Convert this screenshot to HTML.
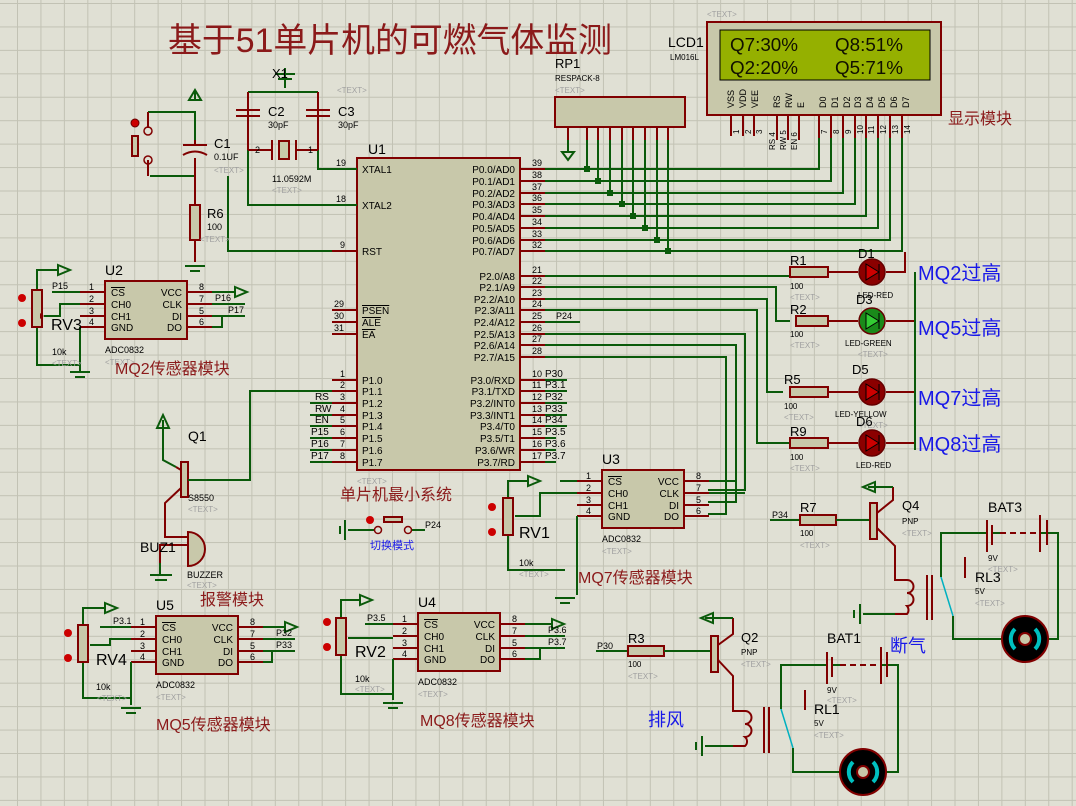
<!DOCTYPE html>
<html><head><meta charset="utf-8"><style>
html,body{margin:0;padding:0}
body{width:1076px;height:806px;overflow:hidden;background-color:#e0e0d4;
background-image:linear-gradient(to right,#c2c2b4 1px,transparent 1px),linear-gradient(to bottom,#c2c2b4 1px,transparent 1px);
background-size:23.45px 23.45px;background-position:17px 3px;}
svg{position:absolute;left:0;top:0}
text{font-family:"Liberation Sans","Noto Sans CJK SC",sans-serif}
.w{stroke:#0a5a0a;stroke-width:2;fill:none}
.r{stroke:#800000;stroke-width:2;fill:none}
.rf{stroke:#800000;stroke-width:2;fill:#c8c8aa}
.t{font-size:10px;fill:#000}
.g{font-size:8px;fill:#a0a0a0}
.cn{fill:#8b1a1a}
.bl{fill:#1818e8}
</style></head><body>
<svg width="1076" height="806" viewBox="0 0 1076 806">
<!-- title -->
<text x="168" y="52" class="cn" font-size="34" textLength="444" lengthAdjust="spacingAndGlyphs">基于51单片机的可燃气体监测</text>

<!-- LCD -->
<text x="707" y="17" class="g">&lt;TEXT&gt;</text>
<text x="668" y="47" font-size="14">LCD1</text>
<text x="670" y="60" font-size="8">LM016L</text>
<rect x="707" y="22" width="234" height="93" class="rf" fill="#d0d0bc"/>
<rect x="720" y="30" width="210" height="50" fill="#95b000" stroke="#000" stroke-width="1"/>
<g font-size="18" fill="#101000">
<text x="730" y="51" font-family="Liberation Mono,monospace" textLength="68" lengthAdjust="spacingAndGlyphs">Q7:30%</text><text x="835" y="51" font-family="Liberation Mono,monospace" textLength="68" lengthAdjust="spacingAndGlyphs">Q8:51%</text>
<text x="730" y="74" font-family="Liberation Mono,monospace" textLength="68" lengthAdjust="spacingAndGlyphs">Q2:20%</text><text x="835" y="74" font-family="Liberation Mono,monospace" textLength="68" lengthAdjust="spacingAndGlyphs">Q5:71%</text></g>
<g font-size="9">
<text transform="translate(734,108) rotate(-90)">VSS</text><text transform="translate(746,108) rotate(-90)">VDD</text><text transform="translate(758,108) rotate(-90)">VEE</text>
<text transform="translate(780,108) rotate(-90)">RS</text><text transform="translate(792,108) rotate(-90)">RW</text><text transform="translate(804,108) rotate(-90)">E</text>
<text transform="translate(826,108) rotate(-90)">D0</text><text transform="translate(838,108) rotate(-90)">D1</text><text transform="translate(850,108) rotate(-90)">D2</text><text transform="translate(861,108) rotate(-90)">D3</text><text transform="translate(873,108) rotate(-90)">D4</text><text transform="translate(885,108) rotate(-90)">D5</text><text transform="translate(897,108) rotate(-90)">D6</text><text transform="translate(909,108) rotate(-90)">D7</text>
</g>
<g class="r"><path d="M731 115V136M743 115V136M754 115V136M777 115V140M788 115V140M799 115V140M819 115V138M831 115V138M843 115V138M855 115V138M866 115V138M878 115V138M890 115V138M902 115V138"/></g>
<g font-size="8"><text transform="translate(739,134) rotate(-90)">1</text><text transform="translate(751,134) rotate(-90)">2</text><text transform="translate(762,134) rotate(-90)">3</text>
<text transform="translate(775,150) rotate(-90)">RS 4</text><text transform="translate(786,150) rotate(-90)">RW 5</text><text transform="translate(797,150) rotate(-90)">EN 6</text>
<text transform="translate(827,134) rotate(-90)">7</text><text transform="translate(839,134) rotate(-90)">8</text><text transform="translate(851,134) rotate(-90)">9</text><text transform="translate(863,134) rotate(-90)">10</text><text transform="translate(874,134) rotate(-90)">11</text><text transform="translate(886,134) rotate(-90)">12</text><text transform="translate(898,134) rotate(-90)">13</text><text transform="translate(910,134) rotate(-90)">14</text></g>
<text x="948" y="124" class="cn" font-size="16">显示模块</text>

<!-- RP1 -->
<text x="555" y="68" font-size="13">RP1</text>
<text x="555" y="81" font-size="8">RESPACK-8</text>
<text x="555" y="93" class="g">&lt;TEXT&gt;</text>
<rect x="555" y="97" width="130" height="30" class="rf"/>
<g class="r"><path d="M568 127V140M587 127V140M598 127V140M610 127V140M622 127V140M633 127V140M645 127V140M657 127V140M668 127V140"/></g>
<path d="M568 140V152M562 152H574L568 160Z" class="w"/>
<g class="w">
<path d="M545 169H819V138M587 140V169"/>
<path d="M545 181H831V138M598 140V181"/>
<path d="M545 193H843V138M610 140V193"/>
<path d="M545 204H855V138M622 140V204"/>
<path d="M545 216H866V138M633 140V216"/>
<path d="M545 228H878V138M645 140V228"/>
<path d="M545 240H890V138M657 140V240"/>
<path d="M545 251H902V138M668 140V251"/>
</g>
<g fill="#0a5a0a"><rect x="584" y="166" width="6" height="6"/><rect x="595" y="178" width="6" height="6"/><rect x="607" y="190" width="6" height="6"/><rect x="619" y="201" width="6" height="6"/><rect x="630" y="213" width="6" height="6"/><rect x="642" y="225" width="6" height="6"/><rect x="654" y="237" width="6" height="6"/><rect x="665" y="248" width="6" height="6"/></g>

<!-- U1 -->
<text x="368" y="154" font-size="14">U1</text>
<rect x="357" y="158" width="163" height="312" class="rf"/>
<g class="r">
<path d="M332 169H357M332 205H357M332 251H357M332 310H357M332 322H357M332 334H357"/>
<path d="M332 380H357M332 391H357M332 403H357M332 415H357M332 426H357M332 438H357M332 450H357M332 462H357"/>
<path d="M520 169H545M520 181H545M520 193H545M520 204H545M520 216H545M520 228H545M520 240H545M520 251H545"/>
<path d="M520 276H545M520 287H545M520 299H545M520 310H545M520 322H545M520 334H545M520 345H545M520 357H545"/>
<path d="M520 380H545M520 391H545M520 403H545M520 415H545M520 426H545M520 438H545M520 450H545M520 462H545"/>
</g>
<g class="t">
<text x="362" y="173">XTAL1</text><text x="362" y="209">XTAL2</text><text x="362" y="255">RST</text>
<text x="362" y="314" text-decoration="overline">PSEN</text><text x="362" y="326" text-decoration="overline">ALE</text><text x="362" y="338" text-decoration="overline">EA</text>
<text x="362" y="384">P1.0</text><text x="362" y="395">P1.1</text><text x="362" y="407">P1.2</text><text x="362" y="419">P1.3</text><text x="362" y="430">P1.4</text><text x="362" y="442">P1.5</text><text x="362" y="454">P1.6</text><text x="362" y="466">P1.7</text>
<g text-anchor="end">
<text x="515" y="173">P0.0/AD0</text><text x="515" y="185">P0.1/AD1</text><text x="515" y="197">P0.2/AD2</text><text x="515" y="208">P0.3/AD3</text><text x="515" y="220">P0.4/AD4</text><text x="515" y="232">P0.5/AD5</text><text x="515" y="244">P0.6/AD6</text><text x="515" y="255">P0.7/AD7</text>
<text x="515" y="280">P2.0/A8</text><text x="515" y="291">P2.1/A9</text><text x="515" y="303">P2.2/A10</text><text x="515" y="314">P2.3/A11</text><text x="515" y="326">P2.4/A12</text><text x="515" y="338">P2.5/A13</text><text x="515" y="349">P2.6/A14</text><text x="515" y="361">P2.7/A15</text>
<text x="515" y="384">P3.0/RXD</text><text x="515" y="395">P3.1/TXD</text><text x="515" y="407">P3.2/INT0</text><text x="515" y="419">P3.3/INT1</text><text x="515" y="430">P3.4/T0</text><text x="515" y="442">P3.5/T1</text><text x="515" y="454">P3.6/WR</text><text x="515" y="466">P3.7/RD</text>
</g>
<g font-size="9">
<text x="336" y="166">19</text><text x="336" y="202">18</text><text x="340" y="248">9</text><text x="334" y="307">29</text><text x="334" y="319">30</text><text x="334" y="331">31</text>
<text x="340" y="377">1</text><text x="340" y="388">2</text><text x="340" y="400">3</text><text x="340" y="412">4</text><text x="340" y="423">5</text><text x="340" y="435">6</text><text x="340" y="447">7</text><text x="340" y="459">8</text>
<text x="532" y="166">39</text><text x="532" y="178">38</text><text x="532" y="190">37</text><text x="532" y="201">36</text><text x="532" y="213">35</text><text x="532" y="225">34</text><text x="532" y="237">33</text><text x="532" y="248">32</text>
<text x="532" y="273">21</text><text x="532" y="284">22</text><text x="532" y="296">23</text><text x="532" y="307">24</text><text x="532" y="319">25</text><text x="532" y="331">26</text><text x="532" y="342">27</text><text x="532" y="354">28</text>
<text x="532" y="377">10</text><text x="532" y="388">11</text><text x="532" y="400">12</text><text x="532" y="412">13</text><text x="532" y="423">14</text><text x="532" y="435">15</text><text x="532" y="447">16</text><text x="532" y="459">17</text>
</g></g>
<text x="340" y="500" class="cn" font-size="16">单片机最小系统</text>
<text x="357" y="484" class="g">&lt;TEXT&gt;</text>
<g class="w"><path d="M545 380H567M545 391H567M545 403H567M545 415H567M545 426H567M545 438H556M545 450H556M545 462H556"/></g>
<g class="t" font-size="9"><text x="545" y="377">P30</text><text x="545" y="388">P3.1</text><text x="545" y="400">P32</text><text x="545" y="412">P33</text><text x="545" y="423">P34</text><text x="545" y="435">P3.5</text><text x="545" y="447">P3.6</text><text x="545" y="459">P3.7</text></g>
<g class="w"><path d="M310 403H332M310 415H332M310 426H332M310 438H332M310 450H332M310 462H332"/></g>
<g class="t" font-size="9"><text x="315" y="400">RS</text><text x="315" y="412">RW</text><text x="315" y="423">EN</text><text x="311" y="435">P15</text><text x="311" y="447">P16</text><text x="311" y="459">P17</text></g>
<path d="M332 391H250V480H196" class="w"/>

<g class="w">
<path d="M545 276H790M545 287H776V321H790M545 299H767V392H783M545 310H757V443H790"/>
<path d="M545 322H580"/>
<path d="M545 334H745V490H708M545 345H736V502H708M545 357H726V514H708"/>
</g>
<text x="556" y="319" font-size="9">P24</text>
<g>
<rect x="790" y="267" width="38" height="10" class="rf" fill="#d8cca8"/><path d="M828 272H858M886 272H905V252" class="r"/>
<circle cx="872" cy="272" r="13" fill="#8b0000" stroke="#600" stroke-width="1.5"/><path d="M879 264V280M879 272L866 264V280Z" stroke="#000" fill="#c00"/>
<text x="790" y="265" font-size="13">R1</text><text x="790" y="289" font-size="8">100</text><text x="790" y="300" class="g">&lt;TEXT&gt;</text>
<text x="858" y="258" font-size="13">D1</text><text x="858" y="298" font-size="8">LED-RED</text>

<rect x="796" y="316" width="32" height="10" class="rf" fill="#d8cca8"/><path d="M828 321H858M886 321H915" class="r"/>
<circle cx="872" cy="321" r="13" fill="#1a8a1a" stroke="#600" stroke-width="1.5"/><path d="M879 313V329M879 321L866 313V329Z" stroke="#000" fill="#3c3"/>
<text x="790" y="314" font-size="13">R2</text><text x="790" y="337" font-size="8">100</text><text x="790" y="348" class="g">&lt;TEXT&gt;</text>
<text x="856" y="304" font-size="13">D3</text><text x="845" y="346" font-size="8">LED-GREEN</text><text x="858" y="357" class="g">&lt;TEXT&gt;</text>

<rect x="790" y="387" width="38" height="10" class="rf" fill="#d8cca8"/><path d="M828 392H858M886 392H915" class="r"/>
<circle cx="872" cy="392" r="13" fill="#8b0000" stroke="#600" stroke-width="1.5"/><path d="M879 384V400M879 392L866 384V400Z" stroke="#000" fill="#c00"/>
<text x="784" y="384" font-size="13">R5</text><text x="784" y="409" font-size="8">100</text><text x="784" y="420" class="g">&lt;TEXT&gt;</text>
<text x="852" y="374" font-size="13">D5</text><text x="835" y="417" font-size="8">LED-YELLOW</text><text x="858" y="428" class="g">&lt;TEXT&gt;</text>

<rect x="790" y="438" width="38" height="10" class="rf" fill="#d8cca8"/><path d="M828 443H858M886 443H915" class="r"/>
<circle cx="872" cy="443" r="13" fill="#8b0000" stroke="#600" stroke-width="1.5"/><path d="M879 435V451M879 443L866 435V451Z" stroke="#000" fill="#c00"/>
<text x="790" y="436" font-size="13">R9</text><text x="790" y="460" font-size="8">100</text><text x="790" y="471" class="g">&lt;TEXT&gt;</text>
<text x="856" y="426" font-size="13">D6</text><text x="856" y="468" font-size="8">LED-RED</text>
<path d="M915 272V450" class="w"/>
</g>
<g class="bl" font-size="20"><text x="918" y="280">MQ2过高</text><text x="918" y="335">MQ5过高</text><text x="918" y="405">MQ7过高</text><text x="918" y="451">MQ8过高</text></g>

<g>
<path d="M285 68V88M275 74H295M278 79H292" class="w"/>
<path d="M248 92H318" class="w"/>
<path d="M248 92V150M318 92V150" class="r"/>
<path d="M236 110H260M236 116H260M306 110H330M306 116H330" class="r"/>
<path d="M248 150V205H357M318 150V169H357" class="w"/>
<path d="M248 150H272M296 150H318" class="r"/>
<path d="M272 140V160M296 140V160" class="r"/><rect x="279" y="141" width="10" height="18" class="rf"/>
<text x="268" y="116" font-size="13">C2</text><text x="268" y="128" font-size="9">30pF</text><text x="272" y="78" font-size="13">X1</text>
<text x="338" y="116" font-size="13">C3</text><text x="338" y="128" font-size="9">30pF</text><text x="337" y="93" class="g">&lt;TEXT&gt;</text>
<text x="255" y="153" font-size="9">2</text><text x="308" y="153" font-size="9">1</text>
<text x="272" y="182" font-size="9">11.0592M</text><text x="272" y="193" class="g">&lt;TEXT&gt;</text>
<path d="M195 92V100M189 100H201L195 90Z" class="w"/>
<path d="M148 112H195V140M150 176H195M228 176V251H332" class="w"/>
<path d="M195 140V145M195 158V205M195 240V262" class="r"/>
<path d="M183 145H207M183 155Q195 148 207 155" class="r"/>
<rect x="190" y="205" width="10" height="35" class="rf" fill="#d8cca8"/>
<path d="M185 266H205M190 271H200" class="w"/>
<text x="214" y="148" font-size="13">C1</text><text x="214" y="160" font-size="9">0.1UF</text><text x="214" y="173" class="g">&lt;TEXT&gt;</text>
<text x="207" y="218" font-size="13">R6</text><text x="207" y="230" font-size="9">100</text><text x="200" y="242" class="g">&lt;TEXT&gt;</text>
<path d="M148 112V128M148 160V176" class="r"/><circle cx="148" cy="131" r="4" fill="none" stroke="#800000" stroke-width="1.5"/><circle cx="148" cy="160" r="4" fill="none" stroke="#800000" stroke-width="1.5"/>
<rect x="132" y="136" width="6" height="20" class="rf"/>
<circle cx="135" cy="123" r="4" fill="#c00" stroke="#600"/>
</g>

<g transform="translate(105,281)">
<text x="0" y="-6" font-size="14">U2</text>
<rect x="0" y="0" width="82" height="58" class="rf"/>
<path d="M-25 11H0M-25 23H0M-25 35H0M-25 46H0M82 11H107M82 23H107M82 35H107M82 46H107" class="r"/>
<g class="t"><text x="6" y="15" text-decoration="overline">CS</text><text x="6" y="27">CH0</text><text x="6" y="39">CH1</text><text x="6" y="50">GND</text>
<text x="77" y="15" text-anchor="end">VCC</text><text x="77" y="27" text-anchor="end">CLK</text><text x="77" y="39" text-anchor="end">DI</text><text x="77" y="50" text-anchor="end">DO</text>
<text x="-16" y="9" font-size="9">1</text><text x="-16" y="21" font-size="9">2</text><text x="-16" y="33" font-size="9">3</text><text x="-16" y="44" font-size="9">4</text>
<text x="94" y="9" font-size="9">8</text><text x="94" y="21" font-size="9">7</text><text x="94" y="33" font-size="9">5</text><text x="94" y="44" font-size="9">6</text></g>
<text x="0" y="72" font-size="9">ADC0832</text><text x="0" y="84" class="g">&lt;TEXT&gt;</text>
</g>
<g transform="translate(156,616)">
<text x="0" y="-6" font-size="14">U5</text>
<rect x="0" y="0" width="82" height="58" class="rf"/>
<path d="M-25 11H0M-25 23H0M-25 35H0M-25 46H0M82 11H107M82 23H107M82 35H107M82 46H107" class="r"/>
<g class="t"><text x="6" y="15" text-decoration="overline">CS</text><text x="6" y="27">CH0</text><text x="6" y="39">CH1</text><text x="6" y="50">GND</text>
<text x="77" y="15" text-anchor="end">VCC</text><text x="77" y="27" text-anchor="end">CLK</text><text x="77" y="39" text-anchor="end">DI</text><text x="77" y="50" text-anchor="end">DO</text>
<text x="-16" y="9" font-size="9">1</text><text x="-16" y="21" font-size="9">2</text><text x="-16" y="33" font-size="9">3</text><text x="-16" y="44" font-size="9">4</text>
<text x="94" y="9" font-size="9">8</text><text x="94" y="21" font-size="9">7</text><text x="94" y="33" font-size="9">5</text><text x="94" y="44" font-size="9">6</text></g>
<text x="0" y="72" font-size="9">ADC0832</text><text x="0" y="84" class="g">&lt;TEXT&gt;</text>
</g>
<g transform="translate(418,613)">
<text x="0" y="-6" font-size="14">U4</text>
<rect x="0" y="0" width="82" height="58" class="rf"/>
<path d="M-25 11H0M-25 23H0M-25 35H0M-25 46H0M82 11H107M82 23H107M82 35H107M82 46H107" class="r"/>
<g class="t"><text x="6" y="15" text-decoration="overline">CS</text><text x="6" y="27">CH0</text><text x="6" y="39">CH1</text><text x="6" y="50">GND</text>
<text x="77" y="15" text-anchor="end">VCC</text><text x="77" y="27" text-anchor="end">CLK</text><text x="77" y="39" text-anchor="end">DI</text><text x="77" y="50" text-anchor="end">DO</text>
<text x="-16" y="9" font-size="9">1</text><text x="-16" y="21" font-size="9">2</text><text x="-16" y="33" font-size="9">3</text><text x="-16" y="44" font-size="9">4</text>
<text x="94" y="9" font-size="9">8</text><text x="94" y="21" font-size="9">7</text><text x="94" y="33" font-size="9">5</text><text x="94" y="44" font-size="9">6</text></g>
<text x="0" y="72" font-size="9">ADC0832</text><text x="0" y="84" class="g">&lt;TEXT&gt;</text>
</g>
<g transform="translate(602,470)">
<text x="0" y="-6" font-size="14">U3</text>
<rect x="0" y="0" width="82" height="58" class="rf"/>
<path d="M-25 11H0M-25 23H0M-25 35H0M-25 46H0M82 11H107M82 23H107M82 35H107M82 46H107" class="r"/>
<g class="t"><text x="6" y="15" text-decoration="overline">CS</text><text x="6" y="27">CH0</text><text x="6" y="39">CH1</text><text x="6" y="50">GND</text>
<text x="77" y="15" text-anchor="end">VCC</text><text x="77" y="27" text-anchor="end">CLK</text><text x="77" y="39" text-anchor="end">DI</text><text x="77" y="50" text-anchor="end">DO</text>
<text x="-16" y="9" font-size="9">1</text><text x="-16" y="21" font-size="9">2</text><text x="-16" y="33" font-size="9">3</text><text x="-16" y="44" font-size="9">4</text>
<text x="94" y="9" font-size="9">8</text><text x="94" y="21" font-size="9">7</text><text x="94" y="33" font-size="9">5</text><text x="94" y="44" font-size="9">6</text></g>
<text x="0" y="72" font-size="9">ADC0832</text><text x="0" y="84" class="g">&lt;TEXT&gt;</text>
</g>
<g class="w">
<path d="M52 292H80M37 290V270H58M44 316H60V304H80M80 327H80M37 327V365H80M80 327V365M70 372H90M75 377H85M80 365V372"/>
<path d="M212 292H235M212 304H245M212 316H245M212 327H222V316"/>
<path d="M131 627H100M83 625V608H105M90 645H110V639H131M83 662V698H131M131 662V705M121 708H141M126 713H136"/>
<path d="M263 627H285M263 639H295M263 651H295M263 662H272V651"/>
<path d="M393 624H365M341 618V600H360M348 638H393M341 655V694H393M393 659V700M383 703H403M388 708H398"/>
<path d="M525 624H552M525 636H565M525 648H565M525 659H540V648"/>
<path d="M577 481H560M508 498V481H528M515 516H540V493H577M508 535V570H565M577 516V595M555 598H575M560 603H570"/>
<path d="M709 481H735M709 493H745"/>
</g>
<path d="M58 265L70 270L58 275Z M105 603L117 608L105 613Z M360 595L372 600L360 605Z M528 476L540 481L528 486Z M235 287L247 292L235 297Z M285 622L297 627L285 632Z M552 619L564 624L552 629Z" fill="none" stroke="#0a5a0a" stroke-width="2"/>
<g font-size="9"><text x="52" y="289">P15</text><text x="215" y="301">P16</text><text x="228" y="313">P17</text>
<text x="113" y="624">P3.1</text><text x="276" y="636">P32</text><text x="276" y="648">P33</text>
<text x="367" y="621">P3.5</text><text x="548" y="633">P3.6</text><text x="548" y="645">P3.7</text></g>
<g>
<rect x="32" y="290" width="10" height="37" class="rf"/><path d="M44 316l-4-3v6z" fill="#800000"/>
<rect x="78" y="625" width="10" height="37" class="rf"/>
<rect x="336" y="618" width="10" height="37" class="rf"/>
<rect x="503" y="498" width="10" height="37" class="rf"/>
<circle cx="22" cy="298" r="4" fill="#c00"/><circle cx="22" cy="323" r="4" fill="#c00"/>
<circle cx="68" cy="633" r="4" fill="#c00"/><circle cx="68" cy="658" r="4" fill="#c00"/>
<circle cx="327" cy="622" r="4" fill="#c00"/><circle cx="327" cy="647" r="4" fill="#c00"/>
<circle cx="492" cy="507" r="4" fill="#c00"/><circle cx="492" cy="532" r="4" fill="#c00"/>
</g>
<g font-size="16"><text x="51" y="330">RV3</text><text x="96" y="665">RV4</text><text x="355" y="657">RV2</text><text x="519" y="538">RV1</text></g>
<g font-size="9"><text x="52" y="355">10k</text><text x="96" y="690">10k</text><text x="355" y="682">10k</text><text x="519" y="566">10k</text></g>
<g class="g"><text x="52" y="366">&lt;TEXT&gt;</text><text x="97" y="701">&lt;TEXT&gt;</text><text x="355" y="692">&lt;TEXT&gt;</text><text x="519" y="577">&lt;TEXT&gt;</text></g>
<g class="cn" font-size="16"><text x="115" y="374">MQ2传感器模块</text><text x="156" y="730">MQ5传感器模块</text><text x="420" y="726">MQ8传感器模块</text><text x="578" y="583">MQ7传感器模块</text></g>

<g>
<path d="M163 420V460L176 467" class="w"/><path d="M157 428L163 415L169 428Z" fill="none" stroke="#0a5a0a" stroke-width="2"/>
<rect x="181" y="462" width="7" height="35" class="rf"/>
<path d="M176 467L181 470M181 488L165 503V537H188M160 563V545H188" class="r"/>
<path d="M188 480H250" class="w"/>
<path d="M188 532A16 16 0 0 1 188 566Z" fill="#c8c8aa" stroke="#800000" stroke-width="2"/>
<path d="M150 575H172M155 580H167" class="w"/><path d="M160 563V575" class="w"/>
<text x="188" y="441" font-size="14">Q1</text><text x="188" y="501" font-size="9">S8550</text><text x="188" y="512" class="g">&lt;TEXT&gt;</text>
<text x="140" y="552" font-size="14">BUZ1</text><text x="187" y="578" font-size="9">BUZZER</text><text x="187" y="588" class="g">&lt;TEXT&gt;</text>
<text x="200" y="605" class="cn" font-size="16">报警模块</text>
</g>
<g>
<path d="M345 520V540M340 526V534M348 530H375" class="w"/>
<circle cx="378" cy="530" r="3.5" fill="none" stroke="#800000" stroke-width="1.5"/><circle cx="408" cy="530" r="3.5" fill="none" stroke="#800000" stroke-width="1.5"/>
<rect x="384" y="517" width="18" height="5" class="rf"/>
<path d="M412 530H425" class="w"/><text x="425" y="528" font-size="9">P24</text>
<circle cx="370" cy="520" r="4" fill="#c00"/>
<text x="370" y="549" class="bl" font-size="11">切换模式</text>
</g>

<g>
<path d="M770 520H800" class="w"/><rect x="800" y="515" width="36" height="10" class="rf" fill="#d8cca8"/>
<path d="M836 520H870" class="w"/>
<rect x="870" y="503" width="7" height="36" class="rf"/>
<path d="M877 513L893 500V487M877 528L895 546V580H907" class="r"/>
<path d="M893 487H868" class="w"/><path d="M875 482L863 487L875 492Z" fill="none" stroke="#0a5a0a" stroke-width="2"/>
<path d="M907 580A6 6 0 0 1 907 593A6 6 0 0 1 907 606A6 6 0 0 1 907 614H895" fill="none" stroke="#800000" stroke-width="2"/>
<path d="M927 575V620M932 575V620" class="r"/>
<path d="M895 614H863M860 604V624M854 610V618" class="w"/>
<path d="M941 577L953 616" stroke="#00b0c0" stroke-width="1.5"/>
<path d="M941 577V533H987M993 533H1003M1040 533H1058V639H1049M953 616V639H1001" class="w"/>
<path d="M987 520V552M992 525V545M1040 515V552M1047 520V545" class="r"/>
<path d="M1000 533H1038" stroke="#800000" stroke-width="2" stroke-dasharray="6 4"/>
<path d="M965 557V578" class="r"/>
<circle cx="1025" cy="639" r="23" fill="#000" stroke="#800000" stroke-width="2"/>
<path d="M1015 629A14 14 0 0 0 1015 649M1035 629A14 14 0 0 1 1035 649" stroke="#00c0c0" stroke-width="4" fill="none"/>
<circle cx="1025" cy="639" r="6" fill="#c8c8aa" stroke="#800000" stroke-width="2"/>
<text x="772" y="518" font-size="9">P34</text>
<text x="800" y="512" font-size="13">R7</text><text x="800" y="536" font-size="8">100</text><text x="800" y="548" class="g">&lt;TEXT&gt;</text>
<text x="902" y="510" font-size="13">Q4</text><text x="902" y="524" font-size="8">PNP</text><text x="902" y="536" class="g">&lt;TEXT&gt;</text>
<text x="988" y="512" font-size="14">BAT3</text><text x="988" y="561" font-size="8">9V</text><text x="988" y="572" class="g">&lt;TEXT&gt;</text>
<text x="975" y="582" font-size="14">RL3</text><text x="975" y="594" font-size="8">5V</text><text x="975" y="606" class="g">&lt;TEXT&gt;</text>
<text x="890" y="652" class="bl" font-size="18">断气</text>
</g>
<g>
<path d="M596 651H628" class="w"/><rect x="628" y="646" width="36" height="10" class="rf" fill="#d8cca8"/>
<path d="M664 651H710" class="w"/>
<rect x="711" y="636" width="7" height="36" class="rf"/>
<path d="M718 645L733 634V618M718 660L733 676V711H745" class="r"/>
<path d="M733 618H705" class="w"/><path d="M713 613L701 618L713 623Z" fill="none" stroke="#0a5a0a" stroke-width="2"/>
<path d="M745 711A6 6 0 0 1 745 724A6 6 0 0 1 745 737A6 6 0 0 1 745 746H733" fill="none" stroke="#800000" stroke-width="2"/>
<path d="M764 707V753M769 707V753" class="r"/>
<path d="M733 746H705M702 736V756M696 742V750" class="w"/>
<path d="M781 709L793 748" stroke="#00b0c0" stroke-width="1.5"/>
<path d="M781 709V665H827M833 665H843M880 665H898V772H885M793 748V772H840" class="w"/>
<path d="M827 652V684M832 657V677M881 647V684M887 652V677" class="r"/>
<path d="M840 665H878" stroke="#800000" stroke-width="2" stroke-dasharray="6 4"/>
<path d="M805 690V710" class="r"/>
<circle cx="863" cy="772" r="23" fill="#000" stroke="#800000" stroke-width="2"/>
<path d="M853 762A14 14 0 0 0 853 782M873 762A14 14 0 0 1 873 782" stroke="#00c0c0" stroke-width="4" fill="none"/>
<circle cx="863" cy="772" r="6" fill="#c8c8aa" stroke="#800000" stroke-width="2"/>
<text x="597" y="649" font-size="9">P30</text>
<text x="628" y="643" font-size="13">R3</text><text x="628" y="667" font-size="8">100</text><text x="628" y="679" class="g">&lt;TEXT&gt;</text>
<text x="741" y="642" font-size="13">Q2</text><text x="741" y="655" font-size="8">PNP</text><text x="741" y="667" class="g">&lt;TEXT&gt;</text>
<text x="827" y="643" font-size="14">BAT1</text><text x="827" y="693" font-size="8">9V</text><text x="827" y="703" class="g">&lt;TEXT&gt;</text>
<text x="814" y="714" font-size="14">RL1</text><text x="814" y="726" font-size="8">5V</text><text x="814" y="738" class="g">&lt;TEXT&gt;</text>
<text x="648" y="726" class="bl" font-size="18">排风</text>
</g>
</svg>
</body></html>
